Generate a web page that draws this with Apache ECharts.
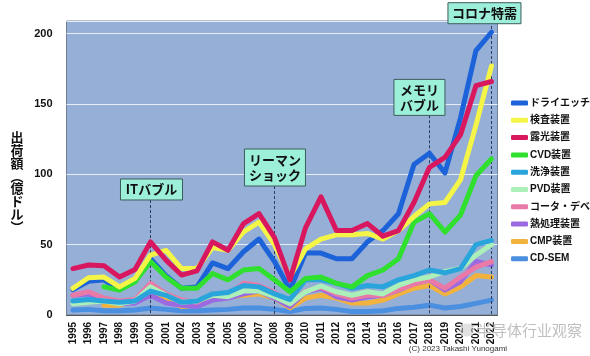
<!DOCTYPE html>
<html><head><meta charset="utf-8">
<script src="https://cdn.jsdelivr.net/npm/echarts@6/dist/echarts.min.js"></script>
<style>html,body{margin:0;padding:0;background:#fff}#c{width:590px;height:356px}</style>
</head><body><div id="c"></div>
<script>
const years = [1995,1996,1997,1998,1999,2000,2001,2002,2003,2004,2005,2006,2007,2008,2009,2010,2011,2012,2013,2014,2015,2016,2017,2018,2019,2020,2021,2022];
const yTicks = [0,50,100,150,200];
const dryEtch    = [18,24,25,18,24,40,28,19,20,37,33,45,54,38,18,44,44,40,40,52,60,72,107,115,101,140,188,201];
const inspection = [19,26.5,27,20,26,42.5,46,33,33,48,46,59,66,50,27,47,54,57,57,58,54,60,70,79,80,96,135,177];
const litho      = [33,35.5,35,27,32.4,52,39,28.4,31.4,52,46,65,72,55,25,62,84,60,60,65,56,60,80,105,112,128,163,166];
const cvd        = [null,null,20,17.7,23.6,38,27,19,19,29.5,25,32,33,25,16.5,26,27,22.5,20,28,32,40,66,72,59,71,99,111];
const cleaning   = [10,11,10,9,10,17,14,9,10,15,16,21,20,15,11,25,25,22.5,19,21,20,25,28,32,30,33,50,53];
const pvd        = [8,9,10,8,10,20,14,9,10,14,13,17,17,13,8,16.5,20.6,16.5,14,16.5,15,21,25,27,31,33,42.5,50];
const coater     = [14,16.5,12,10,11,22.5,15,10.6,9,15,14,22.5,21,16,8,17,20,15,12,14,14,18,22,25,19,27,34,38];
const thermal    = [14,15,11,8,8.6,14,8.6,7,6,10.6,12,15,17,12,6,16.5,19,13,10.6,13,14,17.7,22.5,25,17.7,23.6,38,35.5];
const cmp        = [null,null,7,7,10.6,17.7,10.6,6,7,13,13,14,15,12,5,12,14,12,8.5,8.5,10.6,15,19,21,15,20,28,27];
const cdsem      = [3.5,4,3,3,3.5,5,4,3,3,3.5,4,5,5,4,2.5,4.7,5,4,2.4,2.5,3,4.7,5.5,7,5,6,8.3,10.6];

const names = ['ドライエッチ','検査装置','露光装置','CVD装置','洗浄装置','PVD装置','コータ・デベ','熱処理装置','CMP装置','CD-SEM'];
const colors = ['#1c62d9','#f5f548','#d9175f','#2fe02f','#2aa5dc','#aaf0b8','#e97aa8','#9b6ae0','#f2b23e','#4a8fe0'];
const values = [dryEtch,inspection,litho,cvd,cleaning,pvd,coater,thermal,cmp,cdsem];
// drawing order (bottom first)
const drawOrder = [9,8,7,6,5,4,0,3,1,2];

// events: [year, box-bottom value]
const events = [[2000,81.7],[2008,91.7],[2018,142],[2022,209]];

const FONT = "'Liberation Sans','Noto Sans CJK JP',sans-serif";
const chart = echarts.init(document.getElementById('c'), null, {renderer:'canvas'});

const series = drawOrder.map((k, idx) => {
  const s = {
    name: names[k], type:'line', data: years.map((y,i)=>[y, values[k][i]]),
    showSymbol:false, symbol:'none', connectNulls:false,
    lineStyle:{color:colors[k], width:5, cap:'round', join:'round'},
    itemStyle:{color:colors[k]}, z: 2+idx, animation:false
  };
  if (k === 9) {
    s.markLine = {
      silent:true, symbol:'none', animation:false,
      lineStyle:{color:'#2a3b5e', width:1, type:[3,2]},
      label:{show:false},
      data: events.map(e => [{coord:[e[0], e[1]]},{coord:[e[0], 0]}])
    };
  }
  return s;
});

chart.setOption({
  animation:false,
  backgroundColor:'#ffffff',
  textStyle:{fontFamily:FONT},
  grid:{left:66.5, right:92.5, top:21, bottom:41, show:true, backgroundColor:'#95afd6', borderColor:'#6f7f99', borderWidth:1},
  xAxis:{type:'value', min:1994.58, max:2022.39,
    axisLine:{show:true, lineStyle:{color:'#555'}}, axisTick:{show:false}, splitLine:{show:false},
    axisLabel:{customValues:years, formatter:v=>String(v), rotate:90, fontSize:10, fontWeight:'bold', color:'#111', margin:7, fontFamily:FONT}
  },
  yAxis:{type:'value', min:0, max:209, interval:50,
    axisLine:{show:false}, axisTick:{show:false},
    splitLine:{show:true, lineStyle:{color:'#e6edf6', width:1}},
    axisLabel:{customValues:yTicks, formatter:v=>String(v), fontSize:11, fontWeight:'bold', color:'#111', margin:14, fontFamily:FONT}
  },
  legend:{orient:'vertical', left:506, top:92, icon:'roundRect', itemWidth:17, itemHeight:5, itemGap:5.3,
    data:names, selectedMode:false,
    textStyle:{fontSize:10, fontWeight:'bold', color:'#111', lineHeight:12, fontFamily:FONT, padding:[0,0,0,-3]}
  },
  series: series
});

// annotation boxes positioned from data coordinates
const boxes = [
  {t:'ITバブル', year:2000, top:96.7, w:62, h:21, dx:1},
  {t:'リーマン\nショック', year:2008, top:118, w:61, h:37, dx:0.5},
  {t:'メモリ\nバブル', year:2018, top:167.5, w:51, h:36, dx:-10},
  {t:'コロナ特需', year:2022, top:222, w:73, h:21, dx:-7}
];
const gfx = [];
boxes.forEach(b => {
  const p = chart.convertToPixel({gridIndex:0}, [b.year, b.top]);
  const cx = p[0] + b.dx, ty = p[1];
  gfx.push({type:'rect', shape:{x:cx-b.w/2, y:ty, width:b.w, height:b.h}, style:{fill:'#9cefd9', stroke:'#3e5d5d', lineWidth:1}, z:50});
  gfx.push({type:'text', x:cx, y:ty+b.h/2, style:{text:b.t, fill:'#111', font:"bold 13px 'Noto Sans CJK JP', sans-serif", align:'center', verticalAlign:'middle', lineHeight:15}, z:51});
});
// y axis name (vertical writing)
gfx.push({type:'text', x:17, y:182, style:{text:'出\n荷\n額\n︵\n億\nド\nル\n︶', fill:'#111', font:"bold 13px 'Noto Sans CJK JP', sans-serif", align:'center', verticalAlign:'middle', lineHeight:12.8}, z:50});
// watermark & credit
gfx.push({type:'circle', shape:{cx:467, cy:330, r:7}, style:{fill:'rgba(200,200,200,0.55)', stroke:'rgba(255,255,255,0.8)', lineWidth:1}, z:60});
gfx.push({type:'text', x:477, y:330, style:{text:'半导体行业观察', fill:'rgba(175,175,175,0.8)', stroke:'rgba(255,255,255,0.7)', lineWidth:1, font:"15px 'Noto Sans CJK SC', sans-serif", align:'left', verticalAlign:'middle'}, z:60});
gfx.push({type:'text', x:458, y:348.5, style:{text:'(C) 2023 Takashi Yunogami', fill:'#333', font:"8px 'Liberation Sans', sans-serif", align:'center', verticalAlign:'middle'}, z:60});
chart.setOption({graphic:gfx});
</script></body></html>
